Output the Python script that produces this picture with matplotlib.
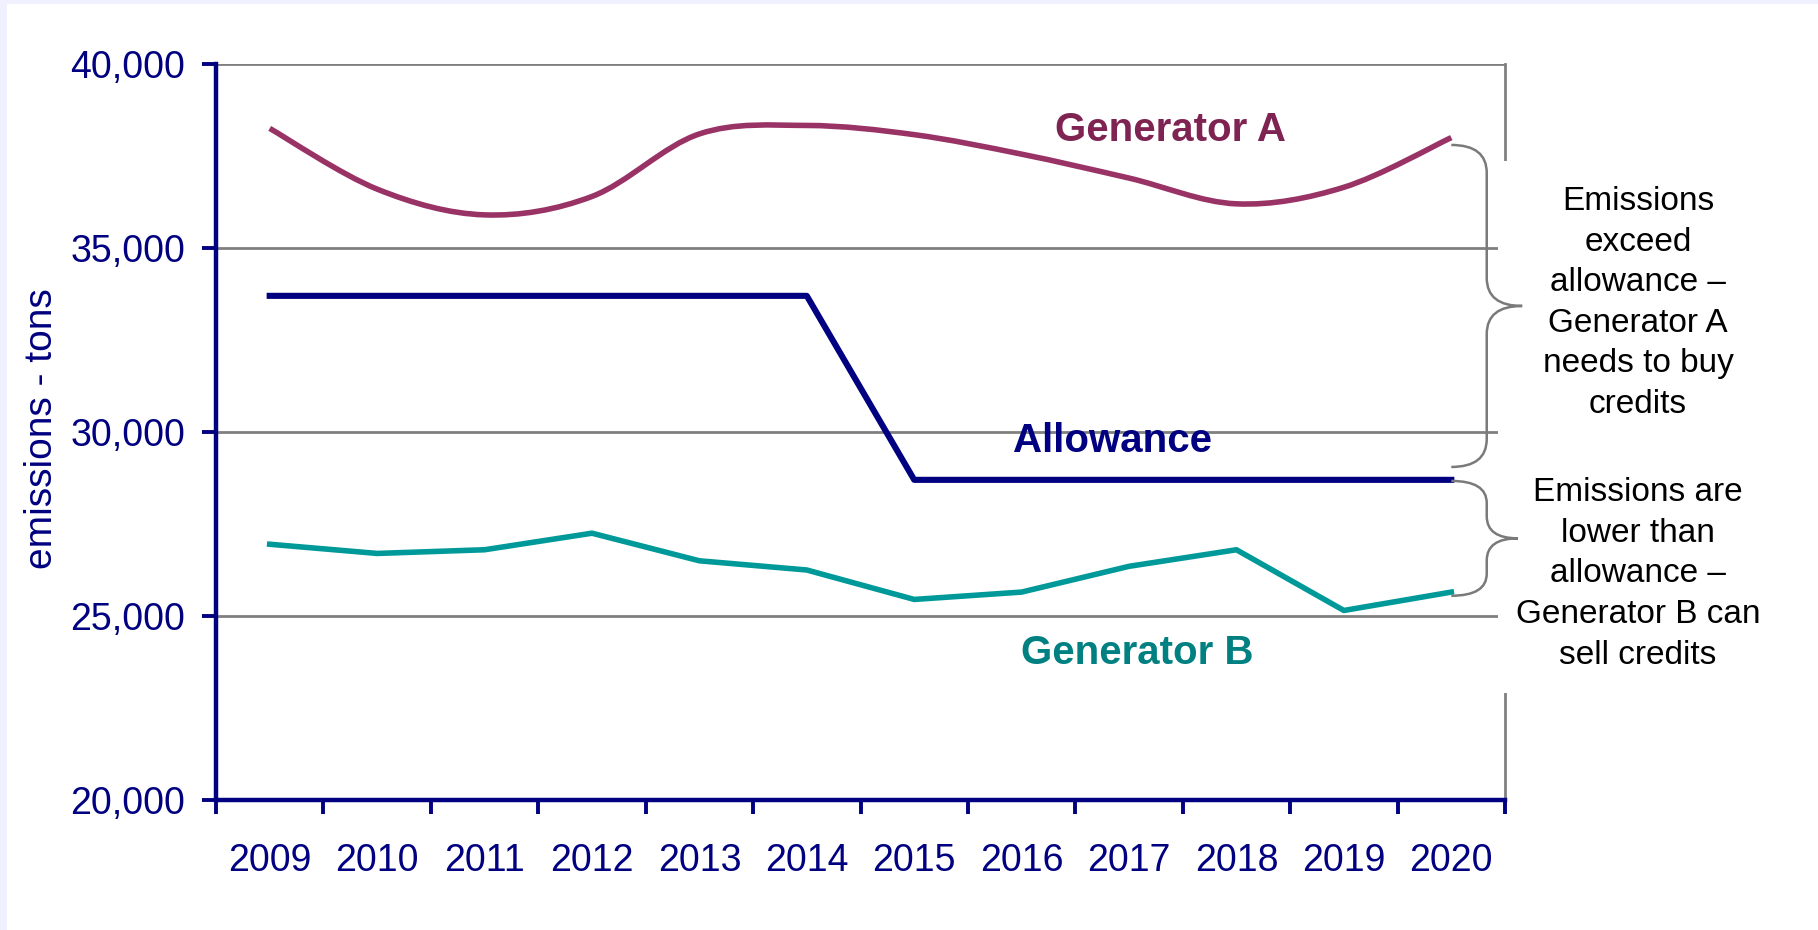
import numpy as np
import matplotlib
matplotlib.use('Agg')
import matplotlib.pyplot as plt
from matplotlib.path import Path
from matplotlib.patches import PathPatch, Rectangle
from matplotlib.ticker import FuncFormatter

plt.rcParams['font.family'] = ['Liberation Sans', 'DejaVu Sans']

years = ['2009', '2010', '2011', '2012', '2013', '2014',
         '2015', '2016', '2017', '2018', '2019', '2020']
generator_a = [38250, 36600, 35900, 36400, 38100, 38330,
               38080, 37550, 36900, 36200, 36650, 38000]
allowance = [33700, 33700, 33700, 33700, 33700, 33700,
             28700, 28700, 28700, 28700, 28700, 28700]
generator_b = [26950, 26700, 26800, 27250, 26500, 26250,
               25450, 25650, 26350, 26800, 25150, 25650]
y_ticks = [20000, 25000, 30000, 35000, 40000]

note_high = 'Emissions\nexceed\nallowance –\nGenerator A\nneeds to buy\ncredits'
note_low = 'Emissions are\nlower than\nallowance –\nGenerator B can\nsell credits'

NAVY = '#000080'
MAROON = '#993366'
TEAL = '#009999'
GRID = '#808080'


def smooth_path(xs, ys):
    # Excel-like smoothed line: Catmull-Rom segments as cubic beziers
    pts = np.column_stack([xs, ys]).astype(float)
    verts = [pts[0]]
    codes = [Path.MOVETO]
    n = len(pts)
    for i in range(n - 1):
        p0 = pts[max(i - 1, 0)]
        p1 = pts[i]
        p2 = pts[i + 1]
        p3 = pts[min(i + 2, n - 1)]
        c1 = p1 + (p2 - p0) / 6.0
        c2 = p2 - (p3 - p1) / 6.0
        verts += [c1, c2, p2]
        codes += [Path.CURVE4] * 3
    return Path(verts, codes)


def brace_path(x0, xm, xt, top, bot, ry):
    mid = (top + bot) / 2.0
    verts = [(x0, top), (xm, top), (xm, top - ry),
             (xm, mid + ry), (xm, mid), (xt, mid),
             (xm, mid), (xm, mid - ry),
             (xm, bot + ry), (xm, bot), (x0, bot)]
    codes = [Path.MOVETO, Path.CURVE3, Path.CURVE3,
             Path.LINETO, Path.CURVE3, Path.CURVE3,
             Path.CURVE3, Path.CURVE3,
             Path.LINETO, Path.CURVE3, Path.CURVE3]
    return Path(verts, codes)


fig = plt.figure(figsize=(18.18, 9.3), dpi=100)
fig.patch.set_facecolor('white')
# light frame at left / top edge
fig.add_artist(Rectangle((0, 0), 7 / 1818, 1, transform=fig.transFigure,
                         facecolor='#F0F0FF', edgecolor='none'))
fig.add_artist(Rectangle((0, 1 - 4 / 930), 1, 4 / 930, transform=fig.transFigure,
                         facecolor='#F0F0FF', edgecolor='none'))

ax = fig.add_axes([216 / 1818, 1 - 800 / 930, 1289 / 1818, 736 / 930])
x = np.arange(len(years))

ax.add_patch(PathPatch(smooth_path(x, generator_a), fill=False,
                       edgecolor=MAROON, lw=4.0, capstyle='butt', zorder=3))
ax.plot(x, allowance, color=NAVY, lw=4.4, zorder=3)
ax.plot(x, generator_b, color=TEAL, lw=4.0, zorder=3)

ax.set_xlim(-0.5, len(years) - 0.5)
ax.set_ylim(y_ticks[0], y_ticks[-1])

ax.set_xticks(np.arange(-0.5, len(years), 1.0))
ax.set_xticklabels([])
ax.set_xticks(x, minor=True)
ax.set_xticklabels(years, minor=True)
ax.set_yticks(y_ticks)
ax.yaxis.set_major_formatter(FuncFormatter(lambda v, p: f'{int(v):,}'))

ax.tick_params(which='major', direction='out', length=10, width=2.8,
               color=NAVY, labelcolor=NAVY, labelsize=27, pad=12)
ax.tick_params(axis='x', which='minor', length=0, pad=31,
               labelcolor=NAVY, labelsize=27)

ax.yaxis.grid(True, color=GRID, lw=2.0)
ax.set_axisbelow(True)
for side in ['left', 'bottom']:
    ax.spines[side].set_color(NAVY)
    ax.spines[side].set_linewidth(3.2)
    ax.spines[side].set_zorder(4)
ax.spines['top'].set_visible(False)
ax.spines['right'].set_color(GRID)
ax.spines['right'].set_linewidth(2.0)

fig.text(42 / 1818, 1 - 429 / 930, 'emissions - tons', rotation=90,
         ha='center', va='center', color=NAVY, fontsize=28)

# series labels
ax.text(8.39, 38207, 'Generator A', color='#7F2352', fontsize=29,
        fontweight='bold', ha='center', va='center', zorder=5)
ax.text(7.85, 29757, 'Allowance', color=NAVY, fontsize=29,
        fontweight='bold', ha='center', va='center', zorder=5)
ax.text(8.08, 23997, 'Generator B', color='#008080', fontsize=29,
        fontweight='bold', ha='center', va='center', zorder=5)

# white box for the notes (covers part of the right border)
fig.add_artist(Rectangle((1498 / 1818, 1 - 693 / 930), 320 / 1818, 532 / 930,
                         transform=fig.transFigure, facecolor='white',
                         edgecolor='none', zorder=5))

last = len(years) - 1
b1 = PathPatch(brace_path(last, last + 0.33, last + 0.66,
                          generator_a[-1] - 200, allowance[-1] + 350, 760),
               fill=False, edgecolor='#7A7A7A', lw=1.8,
               transform=ax.transData, zorder=6)
b2 = PathPatch(brace_path(last, last + 0.33, last + 0.62,
                          allowance[-1] - 30, generator_b[-1] - 100, 600),
               fill=False, edgecolor='#7A7A7A', lw=1.8,
               transform=ax.transData, zorder=6)
fig.add_artist(b1)
fig.add_artist(b2)

fig.text(1638 / 1818, 1 - 303 / 930, note_high, ha='center', va='center',
         fontsize=24, linespacing=1.4, color='black', zorder=7)
fig.text(1638 / 1818, 1 - 574 / 930, note_low, ha='center', va='center',
         fontsize=24, linespacing=1.4, color='black', zorder=7)

fig.savefig('out.png', dpi=100)
